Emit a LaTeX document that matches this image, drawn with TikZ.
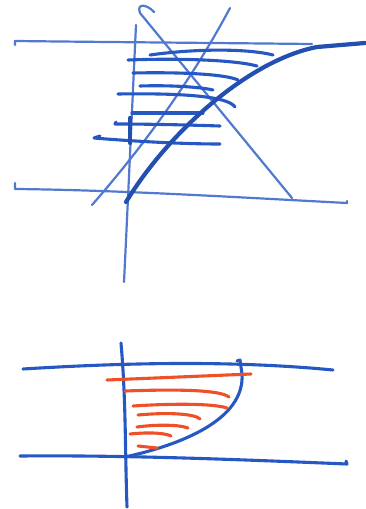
\documentclass[tikz,border=0pt]{standalone}
\usepackage{xcolor}
\definecolor{inkblue}{RGB}{38,88,196}
\definecolor{inkred}{RGB}{238,80,42}

\begin{document}
\begin{tikzpicture}[
				x=1pt, y=-1pt,
				line cap=round,
				line join=round,
				thinpen/.style={
					draw=inkblue!80,
					line width=2.2pt
				},
				pen/.style={
					draw=inkblue,
					line width=3.1pt
				},
				boldpen/.style={
					draw=inkblue!90!black,
					line width=4.2pt
				},
				redpen/.style={
					draw=inkred,
					line width=3.1pt
				}
				]
				\useasboundingbox (0,0) rectangle (366,509);
				
				% upper sketch
				\draw[thinpen] (15,45) -- (15,41) .. controls (100,42) and (220,43) .. (312,44);
				\draw[thinpen] (15,183) -- (15,189) .. controls (120,190) and (250,198) .. (347,203) -- (347,201);
				\draw[thinpen] (136,25) .. controls (132,110) and (128,200) .. (124,282);
				\draw[thinpen] (154,12) .. controls (148,5) and (136,2) .. (140,13) -- (292,198);
				\draw[thinpen] (92,205) .. controls (162,125) and (205,55) .. (230,8);
				
				\draw[pen] (150,55) .. controls (200,48) and (250,49) .. (273,55);
				\draw[pen] (128,60) .. controls (180,58) and (235,60) .. (257,66);
				\draw[pen] (133,73) .. controls (180,72) and (225,74) .. (238,80);
				\draw[pen] (140,86) .. controls (170,85) and (200,87) .. (213,90);
				\draw[pen] (118,94) .. controls (180,93) and (228,96) .. (235,107);
				\draw[pen] (132,113) -- (203,113);
				\draw[pen] (116,122) -- (115,124) .. controls (150,124) and (190,125) .. (220,126);
				\draw[pen] (100,136) -- (94,138) .. controls (130,141) and (180,144) .. (220,144);
				\draw[boldpen] (130,118) -- (130,143);
				
				\draw[boldpen] (126,202) .. controls (170,130) and (250,60) .. (317,47) -- (365,43);
				
				% lower sketch
				\draw[pen] (23,369) .. controls (120,363) and (230,360) .. (333,370);
				\draw[pen] (20,456) .. controls (130,455) and (250,460) .. (347,464) -- (346,461);
				\draw[pen] (121,343) .. controls (126,400) and (125,450) .. (127,507);
				\draw[pen] (125,457) .. controls (180,445) and (245,420) .. (242,374) -- (240,360) -- (237,361);
				
				\draw[redpen] (107,380) -- (251,374);
				\draw[redpen] (125,391) .. controls (180,389) and (220,390) .. (229,397);
				\draw[redpen] (133,406) .. controls (180,403) and (215,404) .. (227,408);
				\draw[redpen] (138,415) .. controls (170,412) and (195,414) .. (200,419);
				\draw[redpen] (137,427) .. controls (160,424) and (180,425) .. (188,428);
				\draw[redpen] (130,434) .. controls (150,432) and (165,433) .. (171,436);
				\draw[redpen] (138,446) -- (157,448);
			\end{tikzpicture}
\end{document}
